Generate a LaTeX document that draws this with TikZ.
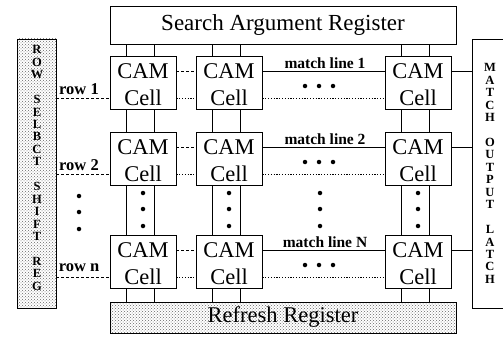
\documentclass[tikz,border=0pt]{standalone}
\usepackage{fontspec}
\setmainfont{Liberation Serif}
\usetikzlibrary{patterns}
\begin{document}
\begin{tikzpicture}[x=1pt,y=-1pt,
  box/.style={draw=black, line width=0.8pt, inner sep=0pt},
  cellbox/.style={box, fill=white, minimum width=66pt, minimum height=53pt},
  celltxt/.style={font=\fontsize{22.5}{24}\selectfont, inner sep=0pt},
  shaded/.style={box, pattern=crosshatch dots, pattern color=black!60},
  wire/.style={line width=0.8pt},
  dashwire/.style={wire, dash pattern=on 3pt off 2pt},
  dotwire/.style={wire, dash pattern=on 1.2pt off 1.6pt},
  lbl/.style={font=\fontsize{16.5}{18}\selectfont\bfseries, inner sep=0pt},
  mlbl/.style={font=\fontsize{15.5}{17}\selectfont\bfseries, inner sep=0pt},
  vlet/.style={font=\fontsize{12.5}{12.45}\selectfont\bfseries, align=center, inner sep=0pt},
  blob/.style={fill=black, circle, inner sep=0pt, minimum size=4.5pt}
]
\useasboundingbox (0,0) rectangle (503,337);

% registers
\node[box, minimum width=346pt, minimum height=38pt, font=\fontsize{23}{25}\selectfont] (sar) at (283,25) {Search Argument Register};
\node[shaded, minimum width=346pt, minimum height=31pt, font=\fontsize{22.5}{25}\selectfont] (rr) at (283,317.5) {Refresh Register};
\node[shaded, minimum width=39pt, minimum height=269pt] (rs) at (36.5,173.5) {};
\node[vlet] (rst) at (37,168) {R\\O\\W\\~\\S\\E\\L\\B\\C\\T\\~\\S\\H\\I\\F\\T\\~\\R\\E\\G};
\node[box, minimum width=33pt, minimum height=269pt] (mol) at (488.5,173.5) {};
\node[vlet] (molt) at (490,173.5) {M\\A\\T\\C\\H\\~\\O\\U\\T\\P\\U\\T\\~\\L\\A\\T\\C\\H};

% cells
\foreach \r/\y in {1/83,2/159,3/262}{
  \foreach \c/\x in {1/143,2/229,3/418}{
    \node[cellbox] (c\r\c) at (\x,\y) {};
    \node[celltxt] (a\r\c) at (\x,\y-12) {CAM};
    \node[celltxt] (b\r\c) at (\x,\y+15) {Cell};
  }
}

% horizontal wires
\foreach \r in {1,2,3}{
  \draw[dashwire] (c\r1.east |- a\r1) -- (c\r2.west |- a\r2);
  \draw[dotwire] (c\r1.east |- b\r1) -- (c\r2.west |- b\r2);
  \draw[wire] (c\r2.east |- a\r2) -- (c\r3.west |- a\r3);
  \draw[dotwire] (c\r2.east |- b\r2) -- (c\r3.west |- b\r3);
  \draw[wire] (c\r3.east |- a\r3) -- (mol.west |- a\r3);
  \draw[dashwire] (rs.east |- b\r1) -- (c\r1.west |- b\r1);
}

% vertical wires
\foreach \c in {1,2,3}{
  \foreach \dx in {-17,11.5}{
    \draw[wire] ([xshift=\dx pt]c1\c.north) -- ([xshift=\dx pt]c1\c.north |- sar.south);
    \draw[wire] ([xshift=\dx pt]c1\c.south) -- ([xshift=\dx pt]c2\c.north);
    \draw[wire] ([xshift=\dx pt]c2\c.south) -- ([xshift=\dx pt]c3\c.north);
    \draw[wire] ([xshift=\dx pt]c3\c.south) -- ([xshift=\dx pt]c3\c.south |- rr.north);
  }
}

% labels
\node[lbl] (rl1) at (79,89) {row 1};
\node[lbl] (rl2) at (79,165) {row 2};
\node[lbl] (rl3) at (79,268) {row n};
\node[mlbl] (ml1) at (325,63) {match line 1};
\node[mlbl] (ml2) at (325,139) {match line 2};
\node[mlbl] (ml3) at (325,242) {match line N};

% horizontal ellipsis dots
\foreach \r/\y in {1/86,2/162,3/265}{
  \foreach \i/\x in {1/305,2/319,3/333}{
    \node[blob] (hd\r\i) at (\x,\y) {};
  }
}
% vertical ellipsis dots
\foreach \k/\x in {1/143,2/229,3/320,4/418}{
  \foreach \i/\y in {1/193,2/209,3/226}{
    \node[blob] (vd\k\i) at (\x,\y) {};
  }
}
\foreach \i/\y in {1/196,2/212,3/229}{
  \node[blob] (ld\i) at (79,\y) {};
}
\end{tikzpicture}
\end{document}
